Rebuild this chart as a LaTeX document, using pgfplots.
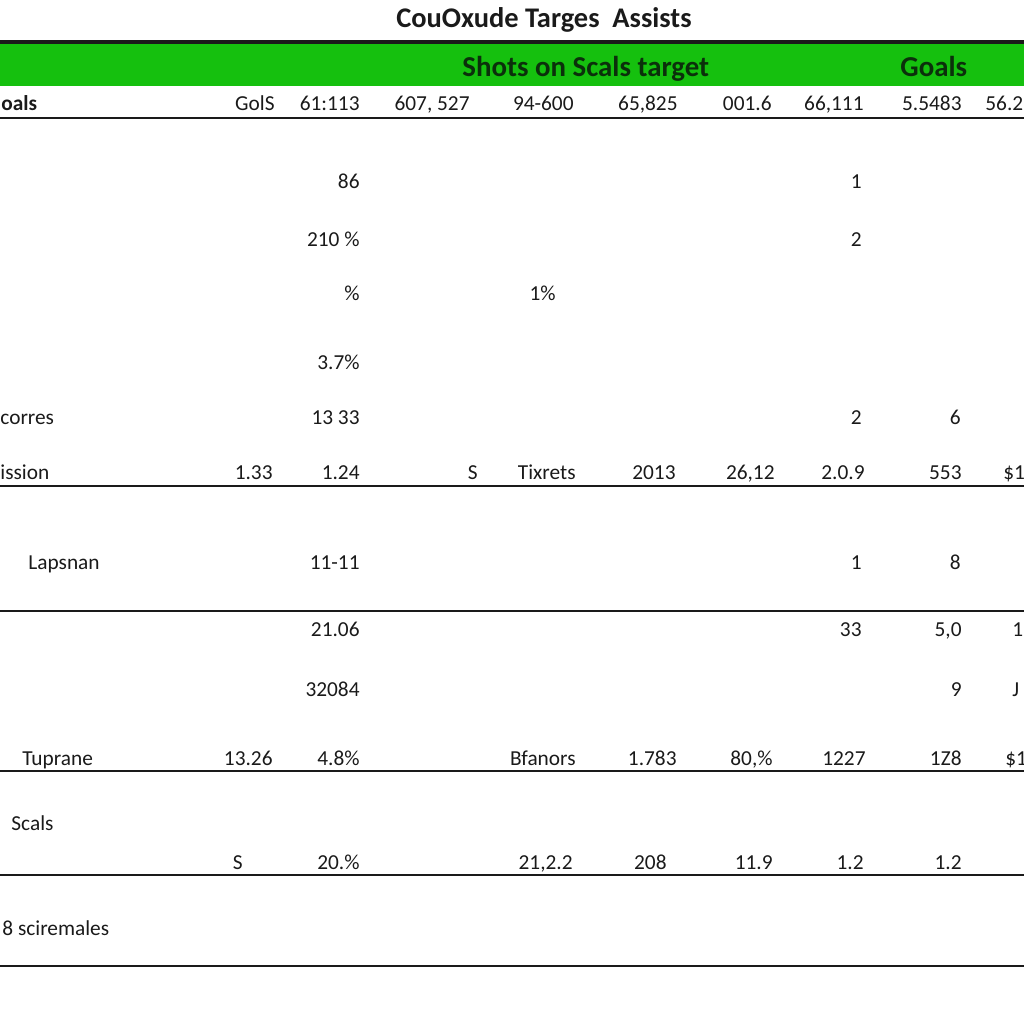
\documentclass[border=0pt]{standalone}
\usepackage{fontspec}
\setmainfont{Carlito}
\usepackage{pgfplots}
\pgfplotsset{compat=1.18}
\definecolor{band}{HTML}{15C00E}
\definecolor{bandtext}{HTML}{0B300B}
\definecolor{ink}{HTML}{1A1A1A}
\begin{document}
\begin{tikzpicture}
\path[use as bounding box, clip] (0,0) rectangle (504pt,504pt);
\begin{axis}[
  at={(252pt,252pt)}, anchor=center,
  scale only axis, width=504pt, height=504pt,
  xmin=0, xmax=1024, ymin=0, ymax=1024,
  y dir=reverse, hide axis, clip=false,
  cell/.style={only marks, mark=none, nodes near coords,
    point meta=explicit symbolic,
    every node near coord/.append style={inner sep=0pt,
      font=\fontsize{10.5}{12}\selectfont, text=ink, #1}},
]
% green header band and rules
\addplot[fill=band, draw=none] coordinates {(0,43) (1024,43) (1024,86) (0,86)} -- cycle;
\addplot[ink, line width=1.5pt] coordinates {(0,42) (1024,42)};
\pgfplotsinvokeforeach{118,486,611,771,875,966}{
  \addplot[ink, line width=1.1pt] coordinates {(0,#1) (1024,#1)};
}

% title and band headings
\addplot[cell={anchor=base, font=\fontsize{14}{16}\bfseries}] coordinates {(544,27) [CouOxude Targes\ \ Assists]};
\addplot[cell={anchor=base west, font=\fontsize{14.2}{16}\bfseries, text=bandtext}] coordinates {
  (462,76) [Shots on Scals target]
  (900,76) [Goals]
};

% right aligned cells
\addplot[cell={anchor=base east}] coordinates {
  (275,110) [GolS] (360,110) [61:113] (470,110) [607, 527] (574,110) [94-600]
  (678,110) [65,825] (772,110) [001.6] (864,110) [66,111] (962,110) [5.5483]
  (360,188) [86] (862,188) [1]
  (360,246) [210 \%] (862,246) [2]
  (360,300) [\%] (556,300) [1\%]
  (360,369) [3.7\%]
  (360,424) [13 33] (862,424) [2] (961,424) [6]
  (273,479) [1.33] (360,479) [1.24] (478,479) [S] (576,479) [Tixrets]
  (676,479) [2013] (775,479) [26,12] (865,479) [2.0.9] (962,479) [553]
  (360,569) [11-11] (862,569) [1] (961,569) [8]
  (360,636) [21.06] (862,636) [33] (962,636) [5,0]
  (360,696) [32084] (962,696) [9]
  (273,765) [13.26] (360,765) [4.8\%] (576,765) [Bfanors] (677,765) [1.783]
  (773,765) [80,\%] (866,765) [1227] (962,765) [1Z8]
  (243,869) [S] (360,869) [20.\%] (573,869) [21,2.2] (667,869) [208]
  (773,869) [11.9] (864,869) [1.2] (962,869) [1.2]
};

% left aligned cells
\addplot[cell={anchor=base west}] coordinates {
  (0,424) [corres] (0,479) [ission] (28,569) [Lapsnan] (22,765) [Tuprane]
  (11,830) [Scals] (2,935) [8 sciremales]
  (985,110) [56.2] (1003,479) [\$1] (1012,636) [1] (1012,696) [J] (1005,765) [\$1]
};
\addplot[cell={anchor=base west, font=\fontsize{10.5}{12}\bfseries}] coordinates {(1,110) [oals]};
\end{axis}
\end{tikzpicture}
\end{document}
